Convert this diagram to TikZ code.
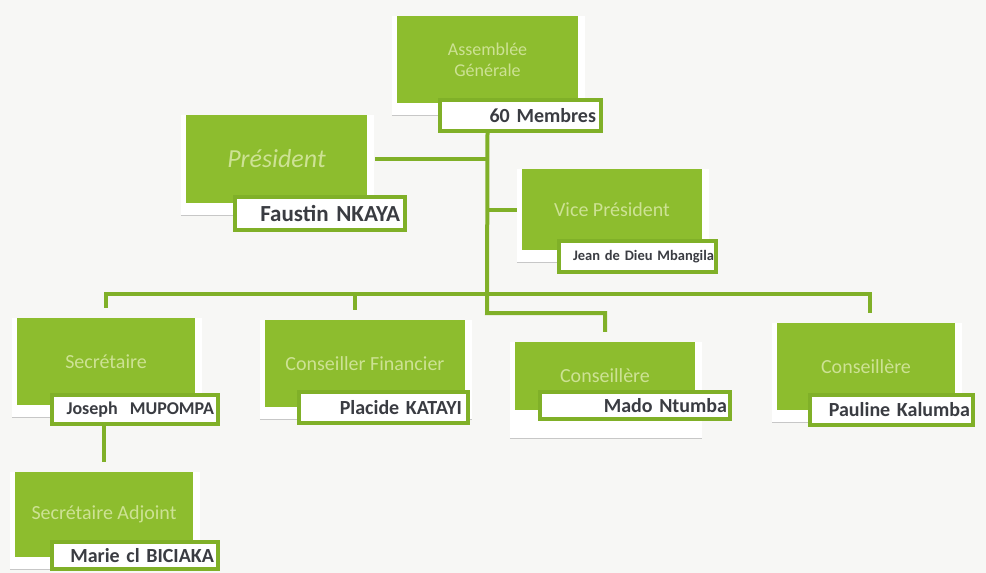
\documentclass[tikz,border=0pt]{standalone}
\usepackage{fontspec}
\setmainfont{Carlito}
\usetikzlibrary{positioning,backgrounds}

\definecolor{leaf}{RGB}{141,189,46}
\definecolor{leafline}{RGB}{128,176,40}
\definecolor{titletext}{RGB}{205,226,148}
\definecolor{nametext}{RGB}{58,60,66}
\definecolor{paper}{RGB}{247,247,245}

\begin{document}
\begin{tikzpicture}[x=1pt, y=-1pt]
			\tikzstyle{rolebox} = [fill=leaf, text=titletext, inner sep=0pt, align=center, font=\fontsize{20}{22}\selectfont]
			\tikzstyle{nametag} = [fill=white, draw=leafline, line width=4pt, text=nametext, align=right, inner sep=0pt, font=\bfseries\fontsize{20}{22}\selectfont]
			\tikzstyle{link} = [draw=leafline, line width=4pt]
			
			\useasboundingbox (0,0) rectangle (986,573);
			
			\node [rolebox, minimum width=181pt, minimum height=87pt, font=\fontsize{18}{21}\selectfont] (ag) at (487.5,59.5) {Assemblée\\Générale};
			\node [nametag, minimum width=161pt, minimum height=31pt, text width=151pt] (ag-tag) at (520.5,115.5) {60 Membres};
			
			\node [rolebox, minimum width=181pt, minimum height=88pt, font=\itshape\fontsize{26}{28}\selectfont] (pres) at (276.5,159) {Président};
			\node [nametag, minimum width=170pt, minimum height=33pt, text width=160pt, font=\bfseries\fontsize{23}{25}\selectfont] (pres-tag) at (320,213.5) {Faustin NKAYA};
			
			\node [rolebox, minimum width=180pt, minimum height=81pt] (vp) at (612,209.5) {Vice Président};
			\node [nametag, minimum width=157pt, minimum height=31pt, text width=153pt, font=\bfseries\fontsize{14.5}{16}\selectfont] (vp-tag) at (637.5,256.5) {Jean de Dieu Mbangila};
			
			\node [rolebox, minimum width=178pt, minimum height=87pt] (sec) at (106,361.5) {Secrétaire};
			\node [nametag, minimum width=166pt, minimum height=29pt, text width=158pt, font=\bfseries\fontsize{18}{20}\selectfont] (sec-tag) at (135,409.5) {Joseph\ \ MUPOMPA};
			
			\node [rolebox, minimum width=200pt, minimum height=87pt] (cf) at (365,363.5) {Conseiller Financier};
			\node [nametag, minimum width=169pt, minimum height=31pt, text width=157pt] (cf-tag) at (383.5,407.5) {Placide KATAYI};
			
			\node [rolebox, minimum width=180pt, minimum height=68pt] (c1) at (605,376) {Conseillère};
			\node [nametag, minimum width=190pt, minimum height=27pt, text width=184pt] (c1-tag) at (635,405.5) {Mado Ntumba};
			
			\node [rolebox, minimum width=178pt, minimum height=87pt] (c2) at (866,366.5) {Conseillère};
			\node [nametag, minimum width=163pt, minimum height=30pt, text width=157pt] (c2-tag) at (891.5,410) {Pauline Kalumba};
			
			\node [rolebox, minimum width=178pt, minimum height=85pt] (sa) at (104,514.5) {Secrétaire Adjoint};
			\node [nametag, minimum width=166pt, minimum height=27pt, text width=158pt] (sa-tag) at (135,555.5) {Marie cl BICIAKA};
			
			% white cards behind the boxes
			\begin{scope}[on background layer]
				\fill [paper] (0,0) rectangle (986,573);
				\foreach \r/\d in {ag/12,pres/12,vp/12,sec/12,cf/12,c1/28,c2/12,sa/12} {
					\fill [white] ([xshift=-5pt]\r.north west) rectangle ([xshift=7pt,yshift=-\d pt]\r.south east);
					\draw [black!22, line width=1pt] ([xshift=-5pt,yshift=-\d pt]\r.south west) -- ([xshift=7pt,yshift=-\d pt]\r.south east);
				}
			\end{scope}
			
			\coordinate (split) at (487,294);
			\coordinate (fork) at (487,313);
			\coordinate (cf-drop) at ([xshift=-10pt]cf.north);
			
			\draw [link, shorten >=10pt] (ag-tag.south -| ag) -- (fork) -| (c1.north);
			\draw [link] ([xshift=8pt]pres.east) -- (pres -| ag);
			\draw [link] ([xshift=-5pt]vp.west) -- (vp -| ag);
			\draw [link, shorten <=10pt, shorten >=10pt] (sec.north) -- (sec.north |- split) -- ([xshift=4pt]c2.north |- split) -- ([xshift=4pt]c2.north);
			\draw [link, shorten >=10pt] (cf-drop |- split) -- (cf-drop);
			\draw [link, shorten >=10pt] (sec-tag.south -| sa) -- (sa.north);
			
\end{tikzpicture}
\end{document}
